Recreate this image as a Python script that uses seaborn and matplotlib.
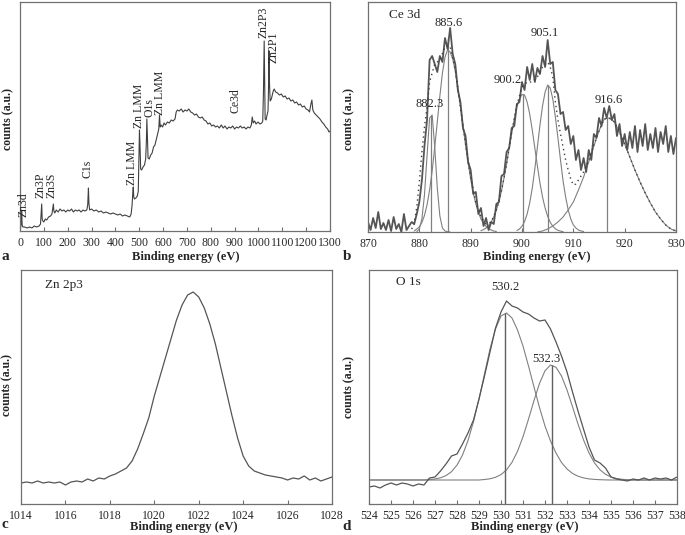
import numpy as np
import matplotlib
matplotlib.use("Agg")
import matplotlib.pyplot as plt
import seaborn as sns

# ---- panel a: survey spectrum (counts in arbitrary units) ----
a_energy = [0, 3, 5, 7, 9, 12, 20, 30, 40, 50, 60, 70, 80, 86, 89, 91, 93, 96, 100, 106,
            112, 120, 128, 134, 138, 140, 142, 146, 152, 160, 168, 176, 184, 192, 200, 208,
            216, 224, 232, 240, 248, 256, 264, 272, 280, 284, 287, 289, 292, 300, 310, 320,
            330, 340, 350, 360, 370, 380, 390, 400, 410, 420, 430, 440, 450, 460, 466, 470,
            473, 475, 477, 480, 486, 492, 496, 499, 501, 503, 506, 510, 516, 522, 527, 530,
            532, 534, 537, 542, 548, 554, 560, 566, 572, 578, 582, 585, 588, 592, 598, 604,
            610, 618, 626, 634, 642, 650, 655, 660, 668, 676, 684, 692, 700, 708, 716, 724,
            732, 740, 748, 756, 764, 772, 780, 788, 796, 804, 812, 820, 828, 836, 844, 852,
            860, 868, 876, 884, 892, 900, 908, 916, 924, 932, 940, 948, 956, 964, 970, 974,
            978, 984, 990, 998, 1006, 1014, 1018, 1021, 1024, 1026, 1028, 1032, 1036, 1040,
            1042, 1044, 1046, 1049, 1054, 1058, 1062, 1066, 1072, 1080, 1088, 1096, 1104,
            1112, 1120, 1128, 1136, 1144, 1152, 1160, 1168, 1176, 1184, 1192, 1200, 1208,
            1214, 1220, 1224, 1228, 1234, 1242, 1250, 1258, 1266, 1274, 1282, 1290, 1296, 1300]
a_counts = [2, 4, 8, 21, 6, 4, 4, 3, 4, 3, 5, 4, 5, 7, 18, 27, 12, 10, 9, 12,
            11, 14, 15, 17, 24, 27, 20, 18, 21, 19, 22, 20, 21, 19, 21, 20,
            22, 19, 21, 20, 21, 19, 21, 20, 21, 26, 43, 28, 21, 22, 20, 21,
            19, 20, 18, 19, 18, 17, 18, 17, 16, 17, 15, 16, 15, 14, 17, 26,
            38, 44, 34, 32, 33, 35, 40, 75, 101, 88, 62, 61, 64, 66, 72, 90,
            112, 95, 73, 72, 76, 78, 84, 86, 92, 98, 102, 116, 104, 106, 104, 108,
            106, 109, 108, 111, 110, 112, 119, 121, 120, 122, 119, 121, 120, 122, 119, 118,
            116, 117, 114, 113, 114, 111, 110, 107, 108, 105, 106, 104, 105, 103, 106, 103,
            105, 102, 104, 103, 105, 102, 104, 103, 105, 103, 104, 102, 104, 103, 106, 114,
            108, 110, 107, 109, 107, 108, 110, 140, 190, 150, 112, 111, 116, 120,
            140, 180, 150, 130, 132, 136, 140, 142, 139, 138, 136, 137, 134,
            135, 132, 133, 130, 131, 128, 129, 126, 127, 124, 125, 122, 121,
            119, 127, 131, 121, 118, 116, 114, 112, 109, 107, 104, 102, 99, 100]
a_labels = ["Zn3d", "Zn3P", "Zn3S", "C1s", "Zn LMM", "Zn LMM", "O1s", "Zn LMM", "Ce3d",
            "Zn2P3", "Zn2P1"]
a_label_x = [14, 86, 134, 282, 468, 497, 541, 587, 902, 1023, 1062]
a_label_y = [14, 33, 33, 53, 46, 103, 114, 116, 118, 193, 168]

# ---- panel b: Ce 3d ----
b_energy = np.arange(870, 930.01, 0.5)
b_counts = [10, 2, 14, 4, 20, 3, 9, 2, 12, 1, 15, 3, 8, 0, 18, 2,
            6, 10, 8, 18, 30, 52, 86, 112, 172, 176, 168, 160, 176, 170, 194, 183,
            204, 178, 168, 142, 130, 104, 96, 70, 62, 38, 40, 18, 24, 6, 14, 2,
            10, 8, 28, 30, 56, 58, 80, 84, 104, 106, 128, 130, 150, 142, 165, 152,
            168, 150, 164, 158, 176, 165, 192, 168, 170, 142, 138, 118, 120, 102, 106, 88,
            96, 72, 82, 62, 74, 60, 82, 72, 98, 94, 114, 106, 124, 114, 126, 112,
            118, 96, 108, 86, 98, 82, 100, 84, 106, 80, 102, 86, 108, 82, 98, 84,
            104, 80, 100, 88, 106, 80, 96, 78, 94]
b_fit1_energy = np.arange(879.5, 886.01, 0.5)
b_fit1 = [0.5, 3, 13, 37, 76, 114, 117, 85, 44, 16, 4, 1, 0.3, 0]
b_fit2_energy = np.arange(879, 895.01, 0.5)
b_fit2 = [1, 3, 5, 9.5, 16.5, 27, 42, 61, 85, 110, 136, 159, 175, 182, 180, 173, 161,
          145, 126, 107, 87, 69, 53, 39, 28, 20, 13, 9, 5.5, 3.4, 2, 1, 0.5]
b_fit3_energy = np.arange(892, 908.01, 0.5)
b_fit3 = [1.3, 2.4, 4, 6.3, 10, 15, 22, 30, 41, 54, 68, 84, 99, 113, 125, 133, 137.5,
          137, 130, 118, 102, 84, 66, 49, 35, 24, 15.6, 9.7, 5.7, 3.2, 1.7, 0.9, 0.4]
b_fit4_energy = np.arange(899, 912.01, 0.5)
b_fit4 = [1.5, 3, 5.7, 10.4, 18, 29, 44, 63, 85, 107, 126, 140, 147, 144, 133, 115, 94,
          72, 51, 35, 22, 13, 7, 4, 2, 1, 0.5]
b_fit5_energy = np.arange(903, 930.01, 1.0)
b_fit5 = [0, 1, 3, 6, 10, 15, 22, 30, 42, 55, 70, 86, 101, 113, 114, 110, 100, 88, 75,
          62, 50, 39, 29, 20, 13, 7, 3, 1]
b_env_energy = [878.5, 879, 879.5, 880, 880.5, 881, 881.5, 882, 883, 884, 885, 886, 887,
                888, 889, 890, 891, 892, 893, 894, 895, 896, 897, 898, 899, 900, 901, 902,
                903, 904, 905, 905.5, 906, 906.5, 907, 907.5, 908, 908.5, 909, 909.5, 910,
                910.5, 911, 911.5, 912, 913, 914, 915, 916, 917, 918, 919, 920, 921, 922,
                923, 924, 925, 926, 927, 928, 929, 930]
b_env = [3, 8, 25, 50, 80, 105, 125, 150, 168, 172, 185, 186, 162, 125, 88, 55, 30, 15,
         8, 10, 22, 41, 68, 100, 127, 145, 150, 150, 155, 165, 170, 165, 155, 130, 112,
         98, 85, 72, 62, 53, 47, 48, 52, 56, 60, 72, 87, 101, 113, 114, 110, 100, 88, 75,
         62, 50, 39, 29, 20, 13, 7, 3, 1]
b_peaks = [882.3, 885.6, 900.2, 905.1, 916.6]
b_peak_tops = [117, 195, 138, 147, 114]
b_peak_labels = ["882.3", "885.6", "900.2", "905.1", "916.6"]
b_label_x = [882.1, 885.65, 897.3, 904.5, 916.85]
b_label_y = [128, 209, 152, 199, 132]

# ---- panel c: Zn 2p3 ----
c_energy = np.arange(1014, 1028.01, 0.25)
c_counts = [21, 22, 21, 23, 21, 22, 21, 22, 19, 22, 23, 22, 25, 23, 26, 25,
            28, 30, 33, 36, 43, 55, 70, 86, 108, 127, 146, 165, 184, 199, 209, 212,
            207, 196, 180, 160, 136, 112, 88, 66, 48, 38, 33, 31, 29, 28, 27, 26,
            24, 26, 25, 28, 24, 26, 23, 25, 27]

# ---- panel d: O 1s ----
d_energy = np.arange(524, 538.01, 0.25)
d_counts = [17, 18, 16, 19, 21, 19, 21, 20, 18, 20, 19, 26, 27, 33, 40, 48,
            50, 60, 71, 84, 105, 128, 152, 176, 192, 203, 198, 196, 192, 190, 186, 183,
            184, 175, 162, 148, 132, 112, 93, 75, 57, 44, 41, 36, 27, 25, 24, 23,
            25, 24, 26, 24, 26, 25, 26, 24, 27]
d_fit1 = [24, 24, 24, 24, 24, 24, 24, 24, 24, 24, 24,
          24.4, 25, 26.2, 28.4, 32.3, 38.9, 48.9, 63.4, 82.4, 105, 130, 155, 175, 188,
          191, 186, 174, 158, 138, 117, 96.5, 78, 63, 51, 41.5, 35, 30.6, 27.8, 26.1,
          25.1, 24.6, 24.3, 24.1,
          24, 24, 24, 24, 24, 24, 24, 24, 24, 24, 24, 24, 24]
d_fit2 = [24, 24, 24, 24, 24, 24, 24, 24, 24, 24, 24, 24, 24, 24, 24, 24, 24, 24, 24, 24, 24,
          24.5, 25.2, 26.7, 29.4, 34.1, 41.7, 52.7, 67.3, 84.8, 103.4, 120.6, 133.2, 139,
          136.7, 128, 114, 97.3, 80, 64.2, 51.1, 41.1, 34.2, 29.7, 27, 25.5, 24.7, 24.3,
          24, 24, 24, 24, 24, 24, 24, 24, 24]
d_peaks = [530.2, 532.3]
d_peak_tops = [191, 139]
d_peak_labels = ["530.2", "532.3"]
d_label_x = [530.18, 532.08]
d_label_y = [217, 145]

W, H = 685, 535
DATA_COLOR = "#4d4d4d"
FIT_COLOR = "#808080"
FRAME_COLOR = "#707070"

sns.set_style("white")
plt.rcParams["font.family"] = ["Liberation Serif", "DejaVu Serif"]


def make_axes(fig, x0, y0, x1, y1):
    # pixel box -> figure fraction
    ax = fig.add_axes([x0 / W, 1 - y1 / H, (x1 - x0) / W, (y1 - y0) / H])
    for s in ax.spines.values():
        s.set_color(FRAME_COLOR)
        s.set_linewidth(0.9)
    ax.tick_params(axis="x", direction="in", length=3, width=0.8, color=FRAME_COLOR,
                   labelsize=8.5, pad=4, bottom=True)
    ax.tick_params(axis="y", left=False, labelleft=False)
    return ax


def line(ax, x, y, color=DATA_COLOR, lw=0.9, ls="-"):
    sns.lineplot(x=list(x), y=list(y), ax=ax, color=color, linewidth=lw, linestyle=ls,
                 estimator=None, sort=False, legend=False)


def frame_texts(fig, letter, lx, ly, xl_x, xl_y, yl_x, yl_y):
    fig.text(lx / W, 1 - ly / H, letter, fontsize=11, fontweight="bold",
             ha="left", va="center")
    fig.text(xl_x / W, 1 - xl_y / H, "Binding energy (eV)", fontsize=9, fontweight="bold",
             ha="center", va="center")
    fig.text(yl_x / W, 1 - yl_y / H, "counts (a.u.)", fontsize=8.5, fontweight="bold",
             ha="center", va="center", rotation=90)


fig = plt.figure(figsize=(W / 100, H / 100), dpi=100)

# panel a
ax = make_axes(fig, 20, 2, 330, 231)
line(ax, a_energy, a_counts, color="#404040", lw=0.8)
ax.set_xlim(0, 1300)
ax.set_ylim(0, 229)
ax.set_xticks(range(0, 1301, 100))
for lab, x, y in zip(a_labels, a_label_x, a_label_y):
    ax.text(x, y, lab, rotation=90, ha="center", va="bottom", fontsize=8.5)
ax.set_xlabel("")
ax.set_ylabel("")
frame_texts(fig, "a", 1, 256, 186, 257, 8, 119)

# panel b
ax = make_axes(fig, 368, 2, 676, 232)
for ex, ey in [(b_fit1_energy, b_fit1), (b_fit2_energy, b_fit2), (b_fit3_energy, b_fit3),
               (b_fit4_energy, b_fit4), (b_fit5_energy, b_fit5)]:
    line(ax, ex, ey, color=FIT_COLOR, lw=0.8)
ax.vlines(b_peaks, 0, b_peak_tops, color=FIT_COLOR, lw=0.9)
line(ax, b_energy, b_counts, color="#555555", lw=1.3)
line(ax, b_env_energy, b_env, color="#404040", lw=1.0, ls=(0, (1, 2.5)))
ax.set_xlim(870, 930)
ax.set_ylim(0, 230)
ax.set_xticks(range(870, 931, 10))
for lab, x, y in zip(b_peak_labels, b_label_x, b_label_y):
    ax.text(x, y, lab, ha="center", va="center", fontsize=9)
ax.text(877.2, 217, "Ce 3d", ha="center", va="center", fontsize=9.5)
ax.set_xlabel("")
ax.set_ylabel("")
frame_texts(fig, "b", 343, 256, 537, 257, 349, 119)

# panel c
ax = make_axes(fig, 21, 270, 332, 504)
line(ax, c_energy, c_counts, color="#555555", lw=0.9)
ax.set_xlim(1014, 1028)
ax.set_ylim(0, 234)
ax.set_xticks(range(1014, 1029, 2))
ax.text(1015.08, 219, "Zn 2p3", ha="left", va="center", fontsize=9.5)
ax.set_xlabel("")
ax.set_ylabel("")
frame_texts(fig, "c", 1, 524, 184, 527, 7, 385)

# panel d
ax = make_axes(fig, 369, 270, 677, 504)
line(ax, d_energy, d_fit1, color=FIT_COLOR, lw=0.8)
line(ax, d_energy, d_fit2, color=FIT_COLOR, lw=0.8)
ax.vlines(d_peaks, 0, d_peak_tops, color="#606060", lw=1.0)
line(ax, d_energy, d_counts, color="#555555", lw=0.9)
ax.set_xlim(524, 538)
ax.set_ylim(0, 234)
ax.set_xticks(range(524, 539, 1))
for lab, x, y in zip(d_peak_labels, d_label_x, d_label_y):
    ax.text(x, y, lab, ha="center", va="center", fontsize=9)
ax.text(525.8, 222, "O 1s", ha="center", va="center", fontsize=9.5)
ax.set_xlabel("")
ax.set_ylabel("")
frame_texts(fig, "d", 342, 527, 525, 527, 349, 387)

fig.savefig("out.png", dpi=100)
plt.close(fig)
